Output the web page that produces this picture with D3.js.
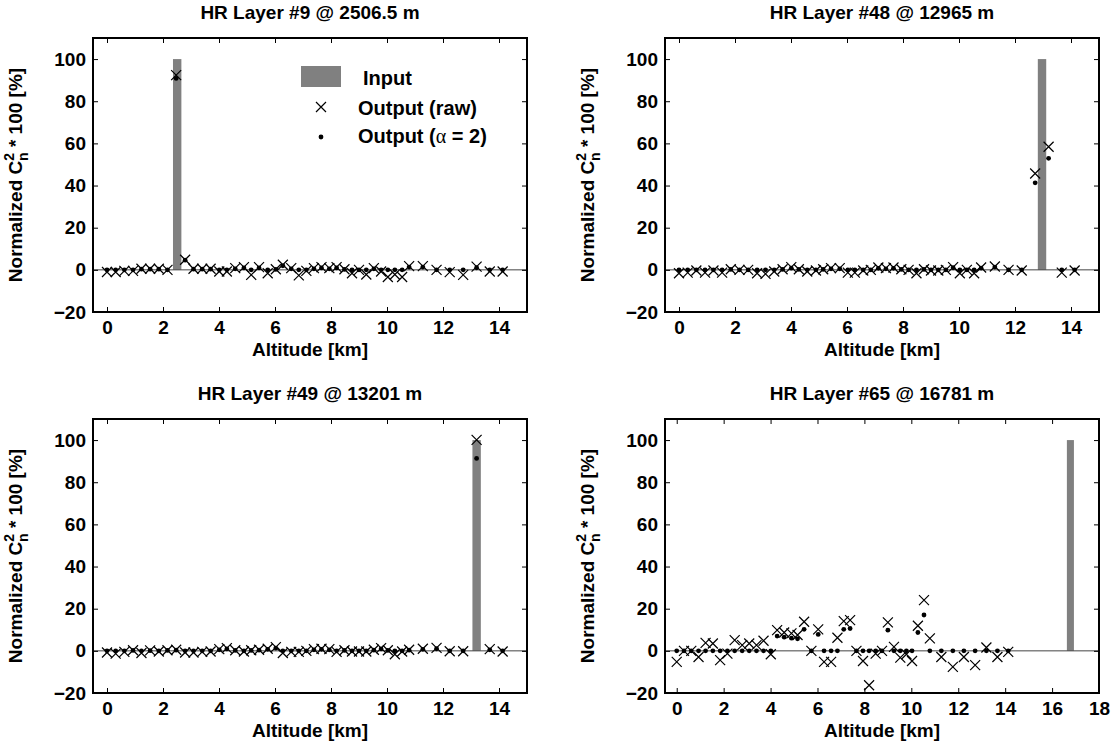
<!DOCTYPE html>
<html>
<head>
<meta charset="utf-8">
<script src="https://cdn.jsdelivr.net/npm/d3@7"></script>
<style>
  body { margin: 0; background: #fff; }
  svg { display: block; font-family: "Liberation Sans", Arial, Helvetica, sans-serif; font-weight: bold; }
</style>
</head>
<body>
<div id="chart"></div>
<script>
// output altitudes [km]
const altitudes = [0, 0.31, 0.62, 0.93, 1.23, 1.54, 1.85, 2.16, 2.47, 2.79,
    3.09, 3.40, 3.70, 4.01, 4.28, 4.58, 4.89, 5.15, 5.43, 5.74,
    6.03, 6.28, 6.58, 6.85, 7.12, 7.39, 7.66, 7.94, 8.20, 8.48,
    8.75, 9.00, 9.26, 9.53, 9.79, 10.03, 10.28, 10.54, 10.79, 11.28,
    11.77, 12.24, 12.72, 13.20, 13.67, 14.13];

const titles = ["HR Layer #9 @ 2506.5 m", "HR Layer #48 @ 12965 m", "HR Layer #49 @ 13201 m", "HR Layer #65 @ 16781 m"];
const layerAltitudes = [2.5065, 12.965, 13.201, 16.781];
const inputValue = 100;
const xMaxes = [15, 15, 15, 18];
const xTicksShort = [0, 2, 4, 6, 8, 10, 12, 14];
const xTicksLong = [0, 2, 4, 6, 8, 10, 12, 14, 16, 18];
const yTicks = [-20, 0, 20, 40, 60, 80, 100];

const raw9 = [-1.0, -1.0, -0.5, -0.5, 0.5, 0.5, 0.5, 0, 92.4, 4.8,
    0.5, 0.5, 0.5, -0.8, -0.8, 0.8, 1.3, -2.4, 1.3, -1.6,
    0.3, 2.4, 0.8, -2.6, -0.5, 0.8, 1.3, 0.8, 1.3, 0.3,
    -1.6, 0, -2.2, 0.8, -0.8, -3.4, -2.2, -3.4, 1.8, 1.8,
    0, -1.1, -2.4, 1.5, -0.8, -0.8];
const reg9 = [0, 0, 0, 0, 0.3, 0.3, 0.3, 0, 90.8, 4.6,
    0.3, 0.3, 0.3, 0, 0, 0.5, 0.9, 0, 0.9, 0,
    0.2, 1.9, 0.5, 0, 0, 0.5, 0.9, 0.5, 0.9, 0.2,
    0, 0, 0, 0.5, 0, 0, 0, 0, 1.3, 1.3,
    0, 0, 0, 1.0, 0, 0];

const raw48 = [-1.6, -1.3, -0.3, -1.3, -0.3, -1.3, 0.3, 0, 0, -1.6,
    -1.9, -0.8, 0.3, 1.3, 0.3, -0.8, -0.3, 0.3, 0.8, 0.8,
    -1.3, -1.3, -0.3, 0, 1.1, 0.8, 1.1, 0.3, 0, -1.6,
    0.3, -0.3, -0.3, 0, 1.3, -1.6, 0, -1.6, 1.1, 1.6,
    0, -0.3, 45.7, 58.4, -1.3, -0.3];
const reg48 = [0, 0, 0, 0, 0, 0, 0.2, 0, 0, 0,
    0, 0, 0.2, 0.8, 0.2, 0, 0, 0.2, 0.5, 0.5,
    0, 0, 0, 0, 0.7, 0.5, 0.7, 0.2, 0, 0,
    0.2, 0, 0, 0, 1.0, 0, 0, 0, 0.8, 1.3,
    0, 0, 41.3, 52.9, 0, 0];

const raw49 = [-0.8, -1.3, -0.5, 0.3, -1.0, 0.2, -0.3, 0.3, 0.5, -0.8,
    -0.8, -0.5, -0.3, 0.8, 1.3, 0.3, -0.3, 0.3, 0.5, 1.0,
    1.8, -1.0, -0.5, -0.5, 0, 0.8, 1.0, 0.8, -0.5, 0.3,
    -0.3, -0.3, -0.3, 0.5, 1.3, 0.3, -1.6, -0.3, 0.5, 1.0,
    1.4, -0.2, -0.2, 100.1, 0.8, -0.3];
const reg49 = [0, 0, 0, 0.2, 0, 0.1, 0, 0.2, 0.3, 0,
    0, 0, 0, 0.5, 0.9, 0.2, 0, 0.2, 0.3, 0.7,
    1.3, 0, 0, 0, 0, 0.5, 0.7, 0.5, 0, 0.2,
    0, 0, 0, 0.3, 0.9, 0.2, 0, 0, 0.3, 0.7,
    1.0, 0, 0, 91.3, 0.5, 0];

const raw65 = [-5.2, 0, 0, -2.9, 3.8, 3.5, -4.4, -1.3, 5.1, 2.7,
    3.5, 2.7, 4.8, -1.6, 9.8, 8.7, 8.3, 7.5, 13.8, 0,
    10.2, -5.2, -5.2, 6.2, 14.1, 14.6, 0, -4.8, -16.3, -1.3,
    0, 13.5, 1.9, -3.2, -1.6, -4.8, 11.9, 24.1, 5.9, -2.9,
    -7.6, -2.9, -6.8, 1.6, -2.9, -0.5];
const reg65 = [0, 0, 0, 0, 0, 0, 0, 0, 0, 0,
    0, 0, 0, 0, 7.0, 6.5, 6.0, 5.7, 10.2, 0,
    7.8, 0, 0, 0, 10.2, 10.6, 0, 0, 0, 0,
    0, 9.8, 0, 0, 0, 0, 8.7, 17.0, 0, 0,
    0, 0, 0, 0, 0, 0];

const rawSets = [raw9, raw48, raw49, raw65];
const regSets = [reg9, reg48, reg49, reg65];

const W = 1114, H = 747;
const plotW = 434, plotH = 274;
const lefts = [93, 665, 93, 665];
const tops = [38, 38, 419, 419];
const barWidth = 0.3;
const fontSize = 19;

const svg = d3.select("#chart").append("svg")
    .attr("width", W)
    .attr("height", H);

titles.forEach((title, i) => {
    const g = svg.append("g").attr("transform", `translate(${lefts[i]},${tops[i]})`);

    const x = d3.scaleLinear().domain([-0.5, xMaxes[i]]).range([0, plotW]);
    const y = d3.scaleLinear().domain([-20, 110]).range([plotH, 0]);
    const xTicks = xMaxes[i] > 15 ? xTicksLong : xTicksShort;

    // input layer bar
    g.append("rect")
        .attr("x", x(layerAltitudes[i] - barWidth / 2))
        .attr("width", x(layerAltitudes[i] + barWidth / 2) - x(layerAltitudes[i] - barWidth / 2))
        .attr("y", y(inputValue))
        .attr("height", y(0) - y(inputValue))
        .attr("fill", "#808080");

    // zero line
    g.append("line")
        .attr("x1", 0).attr("x2", plotW)
        .attr("y1", y(0)).attr("y2", y(0))
        .attr("stroke", "#444")
        .attr("stroke-width", 1);

    const pts = altitudes.map((a, k) => ({ alt: a, raw: rawSets[i][k], reg: regSets[i][k] }));

    g.selectAll(".cross")
        .data(pts)
        .enter().append("path")
        .attr("class", "cross")
        .attr("transform", d => `translate(${x(d.alt)},${y(d.raw)})`)
        .attr("d", "M-5,-5L5,5M-5,5L5,-5")
        .attr("stroke", "#000")
        .attr("stroke-width", 1.2)
        .attr("fill", "none");

    g.selectAll(".dot")
        .data(pts)
        .enter().append("circle")
        .attr("class", "dot")
        .attr("cx", d => x(d.alt))
        .attr("cy", d => y(d.reg))
        .attr("r", 2.4)
        .attr("fill", "#000");

    // axes, ticks pointing inwards on all four sides
    g.append("g")
        .attr("transform", `translate(0,${plotH})`)
        .call(d3.axisBottom(x).tickValues(xTicks).tickSize(-5).tickSizeOuter(0).tickPadding(9));
    g.append("g")
        .call(d3.axisTop(x).tickValues(xTicks).tickSize(-5).tickSizeOuter(0).tickFormat(""));
    g.append("g")
        .call(d3.axisLeft(y).tickValues(yTicks).tickSize(-5).tickSizeOuter(0).tickPadding(7));
    g.append("g")
        .attr("transform", `translate(${plotW},0)`)
        .call(d3.axisRight(y).tickValues(yTicks).tickSize(-5).tickSizeOuter(0).tickFormat(""));

    g.selectAll(".domain").remove();
    g.selectAll(".tick line").attr("stroke", "#000").attr("stroke-width", 1);
    g.selectAll(".tick text")
        .attr("fill", "#000")
        .style("font-family", "'Liberation Sans', Arial, sans-serif")
        .style("font-weight", "bold")
        .style("font-size", fontSize + "px");

    // box
    g.append("rect")
        .attr("width", plotW)
        .attr("height", plotH)
        .attr("fill", "none")
        .attr("stroke", "#000")
        .attr("stroke-width", 2);

    // title
    g.append("text")
        .attr("x", plotW / 2)
        .attr("y", -19)
        .attr("text-anchor", "middle")
        .style("font-size", fontSize + "px")
        .text(title);

    // x label
    g.append("text")
        .attr("x", plotW / 2)
        .attr("y", plotH + 44)
        .attr("text-anchor", "middle")
        .style("font-size", fontSize + "px")
        .text("Altitude [km]");

    // y label with C_n^2
    const yl = g.append("text")
        .attr("transform", `translate(${22 - lefts[i] + (i % 2) * 572},${plotH / 2}) rotate(-90)`)
        .attr("text-anchor", "middle")
        .style("font-size", fontSize + "px");
    yl.append("tspan").text("Normalized C");
    yl.append("tspan").attr("dy", -8).style("font-size", "14px").text("2");
    yl.append("tspan").attr("dx", -8).attr("dy", 14).style("font-size", "14px").text("n");
    yl.append("tspan").attr("dy", -6).text(" * 100 [%]");

    // legend in the first panel
    if (i === 0) {
        const lg = g.append("g");
        lg.append("rect")
            .attr("x", 208).attr("y", 28)
            .attr("width", 40).attr("height", 21)
            .attr("fill", "#808080");
        lg.append("text").attr("x", 270).attr("y", 47)
            .style("font-size", "20px").text("Input");
        lg.append("path")
            .attr("transform", "translate(228,69)")
            .attr("d", "M-5,-5L5,5M-5,5L5,-5")
            .attr("stroke", "#000")
            .attr("stroke-width", 1.2);
        lg.append("text").attr("x", 265).attr("y", 77)
            .style("font-size", "20px").text("Output (raw)");
        lg.append("circle")
            .attr("cx", 228).attr("cy", 99).attr("r", 2.4)
            .attr("fill", "#000");
        const t3 = lg.append("text").attr("x", 265).attr("y", 105)
            .style("font-size", "20px");
        t3.append("tspan").text("Output (");
        t3.append("tspan").style("font-family", "'Liberation Serif', serif").style("font-weight", "normal").text("\u03b1");
        t3.append("tspan").text(" = 2)");
    }
});
</script>
</body>
</html>
